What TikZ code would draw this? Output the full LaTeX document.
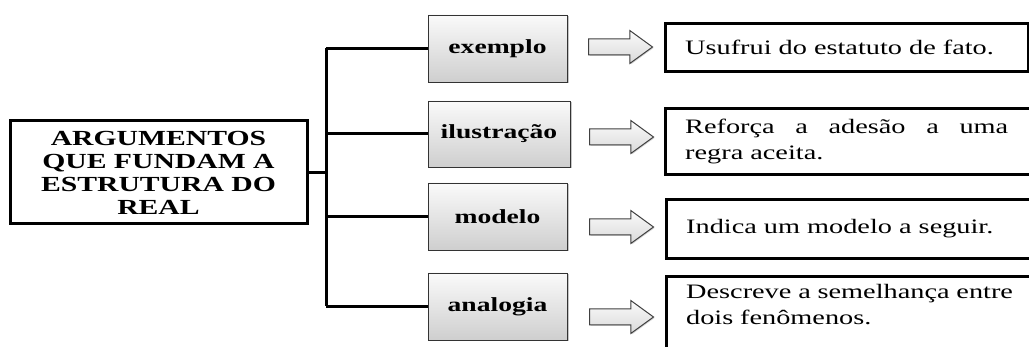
\documentclass[tikz,border=0pt]{standalone}
\usepackage{fontspec}
\setmainfont{Liberation Serif}[FakeStretch=1.38]
\usetikzlibrary{shapes.arrows,shadows}

\tikzset{
  conn/.style={line width=3pt},
  mainbox/.style={draw, line width=3pt, minimum width=297pt, minimum height=103pt,
    align=center, font=\fontsize{21.5}{23}\selectfont\bfseries},
  kindbox/.style={draw=black!80, line width=0.8pt, top color=gray!4, bottom color=gray!38,
    minimum width=139pt, minimum height=67pt, font=\fontsize{20}{23}\selectfont\bfseries,
    drop shadow={shadow xshift=1.5pt, shadow yshift=-1.5pt, opacity=0.45}},
  bigarrow/.style={single arrow, draw=black!75, line width=1pt, top color=gray!3, bottom color=gray!30,
    inner xsep=0pt, inner ysep=7.5pt, minimum height=64pt, single arrow head extend=8.5pt,
    single arrow tip angle=72, drop shadow={shadow xshift=1pt, shadow yshift=-1pt, opacity=0.35}},
  descbox/.style={draw, line width=3pt, anchor=north west, minimum width=372pt},
  desc/.style={anchor=west, inner sep=0pt, font=\fontsize{20.5}{26}\selectfont}
}

\begin{document}
\begin{tikzpicture}[x=1pt,y=-1pt]
  \useasboundingbox (0,0) rectangle (1029,347);

  \node[mainbox] (arg) at (158.5,172.5) {ARGUMENTOS\\QUE FUNDAM A\\ESTRUTURA DO\\REAL};
  \coordinate (jn) at (326,172.5);

  % middle column
  \node[kindbox] (ex) at (497.5,48.5) {exemplo};
  \node[kindbox, minimum width=142pt, minimum height=66pt] (il) at (499,134) {ilustração};
  \node[kindbox] (mo) at (497.5,216.5) {modelo};
  \node[kindbox] (an) at (497.5,306.5) {analogia};

  % tree lines
  \draw[conn] (arg.east) -- (jn);
  \draw[conn] (jn |- ex.west) -- (jn |- an.west);
  \foreach \k in {ex,il,mo,an}
    \draw[conn] (jn |- \k.west) -- (\k.west);

  % block arrows
  \node[bigarrow] (a1) at (615,47) {};
  \node[bigarrow] (a2) at (616,137) {};
  \node[bigarrow] (a3) at (616,227) {};
  \node[bigarrow] (a4) at (616,317) {};

  % right column
  \node[descbox, minimum width=363pt, minimum height=48pt] (b1) at (664,22) {};
  \node[descbox, minimum height=66pt] (b2) at (664,107) {};
  \node[descbox, minimum height=59pt] (b3) at (665,198) {};
  \node[descbox, minimum height=90pt] (b4) at (665,275) {};

  \node[desc] (t1) at ([xshift=21pt]b1.west) {Usufrui do estatuto de fato.};
  \node[desc, text width=323pt, align=justify] (t2) at ([xshift=21pt]b2.west)
    {Reforça a adesão a uma\linebreak regra aceita.};
  \node[desc] (t3) at ([xshift=21pt]b3.west) {Indica um modelo a seguir.};
  \node[desc, anchor=north west, text width=330pt, align=left] (t4) at ([xshift=21pt,yshift=-9pt]b4.north west)
    {Descreve a semelhança entre\\dois fenômenos.};
\end{tikzpicture}
\end{document}
